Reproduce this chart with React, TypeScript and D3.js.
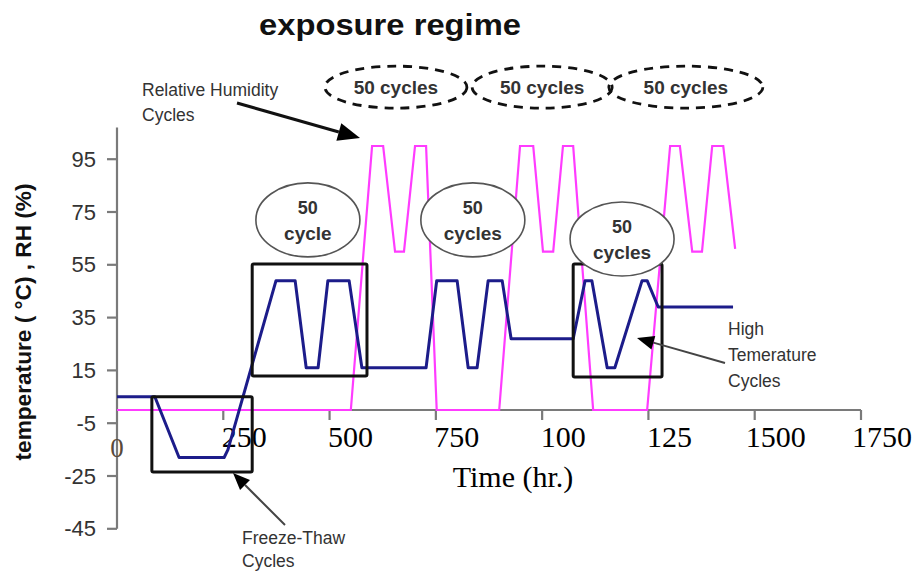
import React from "react";
import * as d3 from "d3";

// ---------- data ----------
const tempTime = [0, 89, 146, 252, 261, 374, 419, 445, 473, 496, 546, 576, 727, 752, 800, 826, 847, 873, 906, 927, 1073, 1101, 1117, 1153, 1171, 1235, 1247, 1273, 1449];
const tempValue = [5, 5, -18, -18, -15, 49, 49, 16, 16, 49, 49, 16, 16, 49, 49, 16, 16, 49, 49, 27, 27, 49, 49, 16, 16, 49, 49, 39, 39];

const rhTime = [0, 550, 600, 626, 654, 675, 701, 727, 752, 899, 948, 979, 1002, 1026, 1049, 1073, 1120, 1247, 1301, 1324, 1353, 1376, 1400, 1426, 1454];
const rhValue = [0, 0, 100, 100, 60, 60, 100, 100, 0, 0, 100, 100, 60, 60, 100, 100, 0, 0, 100, 100, 60, 60, 100, 100, 61];

const yTicks = [95, 75, 55, 35, 15, -5, -25, -45];
const xTicks = [0, 250, 500, 750, 1000, 1250, 1500, 1750];
const xTickLabels = ["0", "250", "500", "750", "100", "125", "1500", "1750"];

const title = "exposure regime";
const yLabel = "temperature ( °C) , RH (%)";
const xLabel = "Time (hr.)";

// annotation boxes in data space
const boxT0 = [82, 318, 1073];
const boxT1 = [318, 588, 1282];
const boxV0 = [5, 55.3, 55.3];
const boxV1 = [-23.5, 12.9, 12.5];

const ovalT = [449, 837, 1188];
const ovalV = [72, 72, 64.8];
const ovalLine1 = ["50", "50", "50"];
const ovalLine2 = ["cycle", "cycles", "cycles"];

const dashT = [656, 1000, 1338];
const dashRx = [71, 70, 77];
const dashLabel = ["50 cycles", "50 cycles", "50 cycles"];

// ---------- component ----------
export default function App() {
  const W = 912, H = 571;
  const x = d3.scaleLinear().domain([0, 1750]).range([117, 861]);
  const y = d3.scaleLinear().domain([-45, 95]).range([528.8, 159.2]);

  const tempPts: [number, number][] = tempTime.map((t, i) => [t, tempValue[i]]);
  const rhPts: [number, number][] = rhTime.map((t, i) => [t, rhValue[i]]);
  const line = d3.line<[number, number]>().x(d => x(d[0])).y(d => y(d[1]));

  const sans = "'Liberation Sans', Arial, sans-serif";
  const serif = "'Liberation Serif', 'Times New Roman', serif";
  const axisColor = "#7a7a7a";
  const textColor = "#333";
  const annSize = 17.5;

  const arrow = (x1: number, y1: number, x2: number, y2: number, hl: number, hw: number, stroke: string, sw: number) => {
    const a = Math.atan2(y2 - y1, x2 - x1);
    const bx = x2 - hl * Math.cos(a), by = y2 - hl * Math.sin(a);
    const px = -Math.sin(a) * hw / 2, py = Math.cos(a) * hw / 2;
    return (
      <g>
        <line x1={x1} y1={y1} x2={bx} y2={by} stroke={stroke} strokeWidth={sw} />
        <polygon points={`${x2},${y2} ${bx + px},${by + py} ${bx - px},${by - py}`} fill="#000" />
      </g>
    );
  };

  const yTop = y(107);

  return (
    <svg width={W} height={H} style={{ position: "absolute", left: 0, top: 0, background: "#fff" }}>
      <rect x={0} y={0} width={W} height={H} fill="#fff" />
      {/* title */}
      <text x={390} y={35} textAnchor="middle" fontFamily={sans} fontWeight="bold" fontSize={30} fill="#111" textLength={262} lengthAdjust="spacingAndGlyphs">{title}</text>

      {/* axes */}
      <line x1={x(0)} x2={x(0)} y1={yTop} y2={y(-45)} stroke={axisColor} strokeWidth={2.2} />
      {yTicks.map(v => (
        <g key={v}>
          <line x1={x(0) - 10} x2={x(0)} y1={y(v)} y2={y(v)} stroke={axisColor} strokeWidth={2.2} />
          <text x={96} y={y(v) + 7.5} textAnchor="end" fontFamily={sans} fontSize={22} fill={textColor}>{v}</text>
        </g>
      ))}
      <line x1={x(0)} x2={x(1750)} y1={y(0)} y2={y(0)} stroke={axisColor} strokeWidth={2.2} />
      {xTicks.map((t, i) => (
        <g key={t}>
          {i > 0 && <line x1={x(t)} x2={x(t)} y1={y(0)} y2={y(0) + 10} stroke={axisColor} strokeWidth={2.2} />}
          <text x={i === 0 ? x(t) : x(t) + 21} y={i === 0 ? 457 : 447} textAnchor="middle" fontFamily={serif} fontSize={i === 0 ? 27 : 30} fill={i === 0 ? "#5a4a3a" : "#000"}>{xTickLabels[i]}</text>
        </g>
      ))}
      <text x={513} y={487} textAnchor="middle" fontFamily={serif} fontSize={30} fill="#000">{xLabel}</text>
      <text transform={`translate(31,322) rotate(-90)`} textAnchor="middle" fontFamily={sans} fontWeight="bold" fontSize={22} fill="#111" textLength={277} lengthAdjust="spacingAndGlyphs">{yLabel}</text>

      {/* series */}
      <path d={line(rhPts) || ""} fill="none" stroke="#ff3cff" strokeWidth={2.2} strokeLinejoin="miter" />
      <path d={line(tempPts) || ""} fill="none" stroke="#1c1c8a" strokeWidth={3} strokeLinejoin="round" />

      {/* boxes */}
      {boxT0.map((t0, i) => (
        <rect key={i} x={x(t0)} y={y(boxV0[i])} width={x(boxT1[i]) - x(t0)} height={y(boxV1[i]) - y(boxV0[i])} fill="none" stroke="#111" strokeWidth={3} rx={1.5} />
      ))}

      {/* solid ovals */}
      {ovalT.map((t, i) => (
        <g key={i}>
          <ellipse cx={x(t)} cy={y(ovalV[i])} rx={52} ry={37} fill="#fff" stroke="#555" strokeWidth={1.6} />
          <text x={x(t)} y={y(ovalV[i]) - 6} textAnchor="middle" fontFamily={sans} fontWeight="bold" fontSize={18} fill={textColor}>{ovalLine1[i]}</text>
          <text x={x(t)} y={y(ovalV[i]) + 20} textAnchor="middle" fontFamily={sans} fontWeight="bold" fontSize={19} fill={textColor}>{ovalLine2[i]}</text>
        </g>
      ))}

      {/* dashed ovals */}
      {dashT.map((t, i) => (
        <g key={i}>
          <ellipse cx={x(t)} cy={y(122.3)} rx={dashRx[i]} ry={21} fill="none" stroke="#111" strokeWidth={2.8} strokeDasharray="9 7" />
          <text x={x(t)} y={y(122.3) + 7} textAnchor="middle" fontFamily={sans} fontWeight="bold" fontSize={19} fill={textColor}>{dashLabel[i]}</text>
        </g>
      ))}

      {/* annotations */}
      <text x={142} y={96} fontFamily={sans} fontSize={annSize} fill={textColor}>Relative Humidity</text>
      <text x={142} y={121} fontFamily={sans} fontSize={annSize} fill={textColor}>Cycles</text>
      {arrow(237, 103, 360, 138, 22, 18, "#111", 3)}

      <text x={242} y={544} fontFamily={sans} fontSize={annSize} fill={textColor}>Freeze-Thaw</text>
      <text x={242} y={567} fontFamily={sans} fontSize={annSize} fill={textColor}>Cycles</text>
      {arrow(285, 525, 233, 473, 17, 14, "#444", 2)}

      <text x={728} y={335} fontFamily={sans} fontSize={annSize} fill={textColor}>High</text>
      <text x={728} y={361} fontFamily={sans} fontSize={annSize} fill={textColor}>Temerature</text>
      <text x={728} y={387} fontFamily={sans} fontSize={annSize} fill={textColor}>Cycles</text>
      {arrow(725, 363, 637, 338, 17, 14, "#444", 2)}
    </svg>
  );
}
